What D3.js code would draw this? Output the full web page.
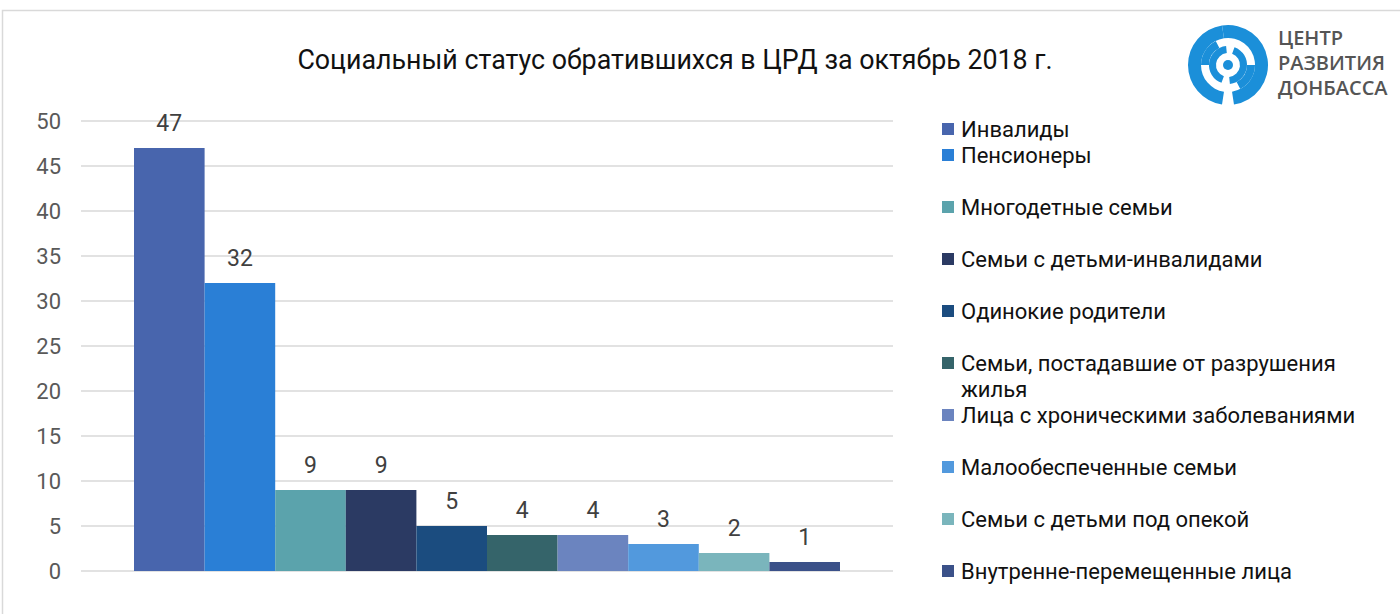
<!DOCTYPE html>
<html>
<head>
<meta charset="utf-8">
<script src="https://cdn.jsdelivr.net/npm/d3@7"></script>
<style>
  body { margin: 0; background: #fff; }
  svg { display: block; font-family: Roboto, "Liberation Sans", sans-serif; }
</style>
</head>
<body>
<svg id="chart" width="1400" height="614"></svg>
<script>
// chart data
const categories = [
    'Инвалиды',
    'Пенсионеры',
    'Многодетные семьи',
    'Семьи с детьми-инвалидами',
    'Одинокие родители',
    'Семьи, постадавшие от разрушения жилья',
    'Лица с хроническими заболеваниями',
    'Малообеспеченные семьи',
    'Семьи с детьми под опекой',
    'Внутренне-перемещенные лица'
];
const values = [47, 32, 9, 9, 5, 4, 4, 3, 2, 1];
const colors = ['#4865ad', '#2a7fd6', '#5ba3ac', '#2b3a63', '#1b4c7f',
                '#35646a', '#6b84bf', '#5299dd', '#7ab5bc', '#3b5189'];
const yTicks = [0, 5, 10, 15, 20, 25, 30, 35, 40, 45, 50];
const title = 'Социальный статус обратившихся в ЦРД за октябрь 2018 г.';
const logoLines = ['ЦЕНТР', 'РАЗВИТИЯ', 'ДОНБАССА'];

const svg = d3.select('#chart');

// outer frame (only left and top edges are visible)
svg.append('rect')
    .attr('x', 2.5).attr('y', 10.5)
    .attr('width', 1500).attr('height', 700)
    .attr('fill', 'none')
    .attr('stroke', '#d9d9d9')
    .attr('stroke-width', 1.5);

// title
svg.append('text')
    .attr('x', 675).attr('y', 69)
    .attr('text-anchor', 'middle')
    .style('font-size', '26.8px')
    .style('fill', '#111')
    .text(title);

// scales
const plotLeft = 81, plotRight = 893;
const y = d3.scaleLinear().domain([0, 50]).range([571, 121]);
const x = d3.scaleBand()
    .domain(categories)
    .range([plotLeft + 53, plotRight - 53])
    .padding(0);

// gridlines
svg.append('g')
    .selectAll('line')
    .data(yTicks)
    .enter().append('line')
    .attr('x1', plotLeft).attr('x2', plotRight)
    .attr('y1', d => y(d)).attr('y2', d => y(d))
    .attr('stroke', '#d9d9d9')
    .attr('stroke-width', 1.5);

// y axis labels
const yAxis = svg.append('g')
    .attr('transform', `translate(${61},0)`)
    .call(d3.axisLeft(y).tickValues(yTicks).tickSize(0).tickPadding(0));
yAxis.select('.domain').remove();
yAxis.selectAll('text')
    .style('font-family', 'Roboto, "Liberation Sans", sans-serif')
    .style('font-size', '22px')
    .style('fill', '#595959');

// bars
svg.append('g')
    .selectAll('rect')
    .data(values)
    .enter().append('rect')
    .attr('x', (d, i) => x(categories[i]))
    .attr('y', d => y(d))
    .attr('width', x.bandwidth())
    .attr('height', d => y(0) - y(d))
    .attr('fill', (d, i) => colors[i]);

// data labels
svg.append('g')
    .selectAll('text')
    .data(values)
    .enter().append('text')
    .attr('x', (d, i) => x(categories[i]) + x.bandwidth() / 2)
    .attr('y', d => y(d) - 17)
    .attr('text-anchor', 'middle')
    .style('font-size', '23px')
    .style('fill', '#404040')
    .text(d => d);

// legend
const legendY = i => i === 0 ? 129 : 155 + (i - 1) * 52;
const legend = svg.append('g')
    .selectAll('g')
    .data(categories)
    .enter().append('g')
    .attr('transform', (d, i) => `translate(942,${legendY(i)})`);

legend.append('rect')
    .attr('x', 0).attr('y', -6)
    .attr('width', 12).attr('height', 12)
    .attr('fill', (d, i) => colors[i]);

legend.append('text')
    .attr('x', 19)
    .attr('y', 8)
    .style('font-size', '22px')
    .style('fill', '#111')
    .each(function(d) {
        // wrap long label like Excel did
        const t = d3.select(this);
        if (d === 'Семьи, постадавшие от разрушения жилья') {
            t.append('tspan').attr('x', 19).text('Семьи, постадавшие от разрушения');
            t.append('tspan').attr('x', 19).attr('dy', 26).text('жилья');
        } else {
            t.text(d);
        }
    });

// logo: ring with cut-outs, inner ring and dot
const logo = svg.append('g').attr('transform', 'translate(1228,65)');
const arc = d3.arc();
const blue = '#1b8fd9';
const logoArcs = [
    {innerRadius: 27, outerRadius: 40, startAngle: -0.15, endAngle: Math.PI - 0.15},
    {innerRadius: 27, outerRadius: 40, startAngle: Math.PI + 0.15, endAngle: 2 * Math.PI - 0.15},
    {innerRadius: 12, outerRadius: 19, startAngle: 0.35, endAngle: Math.PI - 0.1},
    {innerRadius: 12, outerRadius: 19, startAngle: Math.PI + 0.35, endAngle: 2 * Math.PI - 0.1},
    {innerRadius: 19, outerRadius: 27, startAngle: Math.PI * 0.5, endAngle: Math.PI * 0.85},
    {innerRadius: 19, outerRadius: 27, startAngle: Math.PI * 1.5, endAngle: Math.PI * 1.85}
];
logo.selectAll('path')
    .data(logoArcs)
    .enter().append('path')
    .attr('d', d => arc(d))
    .attr('fill', blue);
logo.append('circle').attr('r', 5).attr('fill', blue);

svg.append('g')
    .selectAll('text')
    .data(logoLines)
    .enter().append('text')
    .attr('x', 1278)
    .attr('y', (d, i) => 45 + i * 25)
    .style('font-family', '"Open Sans", Roboto, sans-serif')
    .style('font-weight', '600')
    .style('font-size', '20px')
    .style('fill', '#555')
    .text(d => d);
</script>
</body>
</html>
